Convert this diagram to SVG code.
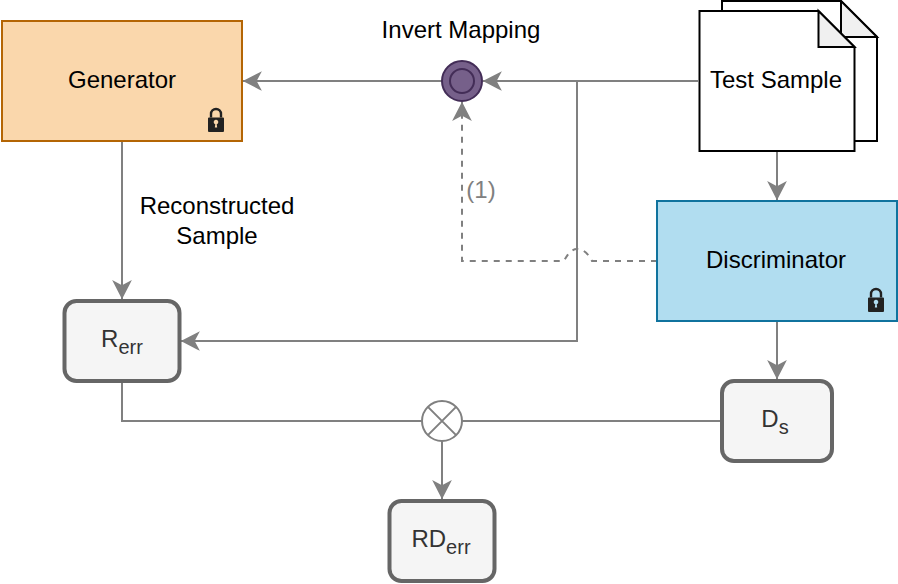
<svg xmlns="http://www.w3.org/2000/svg" width="898" height="584" viewBox="0 0 898 584">
<style>
text{font-family:"Liberation Sans",Arial,sans-serif;font-size:24px;fill:#000;text-anchor:middle}
.c{fill:none;stroke:#808080;stroke-width:2}
.a{marker-end:url(#arrow)}
.d{stroke-dasharray:6 6}
.r{fill:#f5f5f5;stroke:#666;stroke-width:4}
.g{fill:#333}
.doc{fill:#fff;stroke:#000;stroke-width:2}
.fold{fill:#f0f0f0;stroke:#000;stroke-width:2}
.lock{fill:#222}
</style>
<defs>
<marker id="arrow" markerUnits="userSpaceOnUse" markerWidth="24" markerHeight="24" refX="20" refY="12" orient="auto" overflow="visible">
<path d="M3.500 4.500 L18 12 L3.500 19.500 L7.500 12 Z" fill="#808080" stroke="#808080" stroke-width="2" stroke-linejoin="miter"/>
</marker>
<g id="lockicon"><path class="lock" fill-rule="evenodd" d="M-7-2.500h14a1 1 0 0 1 1 1v12.500a1 1 0 0 1-1 1h-14a1 1 0 0 1-1-1v-12.500a1 1 0 0 1 1-1z M-1.200 7.500h2.400l-.5-3.200a2.300 2.300 0 1 0-1.400 0z"/><path d="M-5-2.500v-3.500a5 5 0 0 1 10 0v3.500" fill="none" stroke="#222" stroke-width="2.400"/></g>
</defs>
<g id="test-sample">
<path class="doc" d="M722 1H841L877 37V141H722Z"/>
<path class="fold" d="M841 1V37H877Z"/>
<path class="doc" d="M699.500 11H818.500L854.500 47V151H699.500Z"/>
<path class="fold" d="M818.500 11V47H854.500Z"/>
<text x="776" y="88">Test Sample</text>
</g>
<g id="connectors">
<path class="c a" d="M442 81H243"/>
<path class="c a" d="M699 81H483"/>
<path class="c a" d="M122 141V299"/>
<path class="c a" d="M577 81V341H181"/>
<path class="c a d" d="M657 261H592Q586 249 577 249Q570 249 564 261H462V102"/>
<path class="c a" d="M777 152V200"/>
<path class="c a" d="M777 321V379"/>
<path class="c" d="M122 381V421H422"/>
<path class="c" d="M722 421H462"/>
<path class="c a" d="M442 441V499"/>
</g>
<g id="generator">
<rect x="2" y="21" width="240" height="120" fill="#fad7ac" stroke="#b46504" stroke-width="2"/>
<text x="122" y="88">Generator</text>
<use href="#lockicon" x="216" y="120"/>
</g>
<g id="invert-mapping">
<circle cx="462" cy="81" r="20" fill="#76608a" stroke="#432d57" stroke-width="2"/>
<circle cx="462" cy="81" r="12" fill="#76608a" stroke="#432d57" stroke-width="2"/>
<text x="461" y="38">Invert Mapping</text>
</g>
<g id="discriminator">
<rect x="657" y="201" width="240" height="120" fill="#b1ddf0" stroke="#10739e" stroke-width="2"/>
<text x="776" y="268">Discriminator</text>
<use href="#lockicon" x="876" y="300"/>
</g>
<g id="rerr">
<rect class="r" x="64.500" y="301" width="115" height="80" rx="12"/>
<text class="g" x="122" y="347">R<tspan font-size="20" dy="7" class="g">err</tspan></text>
</g>
<g id="ds">
<rect class="r" x="722" y="381" width="110" height="80" rx="12"/>
<text class="g" x="775" y="427">D<tspan font-size="20" dy="7" class="g">s</tspan></text>
</g>
<g id="rderr">
<rect class="r" x="389.500" y="501" width="105" height="80" rx="12"/>
<text class="g" x="441" y="547">RD<tspan font-size="20" dy="7" class="g">err</tspan></text>
</g>
<g id="multiply">
<circle cx="442" cy="421" r="20" fill="#fff" stroke="#808080" stroke-width="2"/>
<path d="M427.900 406.900L456.100 435.100M456.100 406.900L427.900 435.100" fill="none" stroke="#808080" stroke-width="2"/>
</g>
<g id="labels">
<text x="217" y="214">Reconstructed</text>
<text x="217" y="244">Sample</text>
<text x="481" y="198" style="fill:#808080">(1)</text>
</g>
</svg>
